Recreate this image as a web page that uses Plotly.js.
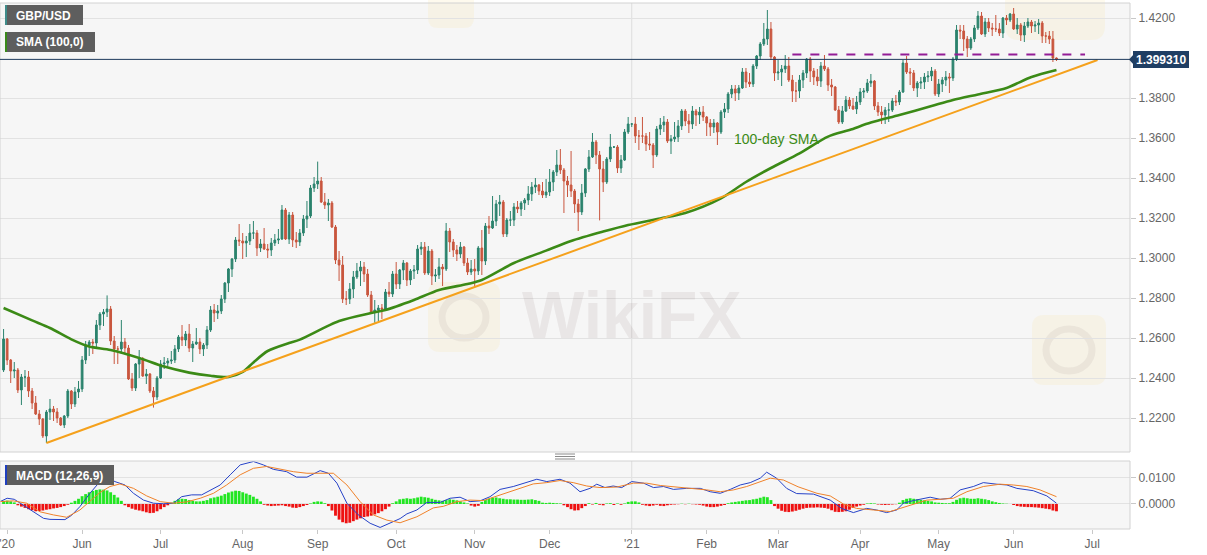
<!DOCTYPE html>
<html><head><meta charset="utf-8">
<script src="https://cdn.plot.ly/plotly-3.0.1.min.js"></script>
<style>html,body{margin:0;padding:0;background:#fff}#chart{width:1207px;height:555px}</style>
</head><body><div id="chart"></div>
<script>
// ---- Daily GBP/USD candles: bar 0 = 30 Apr 2020 ... bar 295 = 17 Jun 2021 ----
const opens = [1.2440,1.2595,1.2490,1.2435,1.2440,1.2340,1.2405,1.2405,1.2335,1.2275,1.2220,1.2195,1.2110,1.2230,1.2245,1.2230,1.2200,1.2165,1.2210,1.2335,
1.2270,1.2330,1.2345,1.2490,1.2565,1.2580,1.2575,1.2665,1.2720,1.2730,1.2745,1.2585,1.2545,1.2545,1.2580,1.2550,1.2395,1.2350,1.2470,1.2495,
1.2410,1.2420,1.2335,1.2305,1.2400,1.2470,1.2475,1.2485,1.2490,1.2545,1.2605,1.2590,1.2620,1.2550,1.2570,1.2580,1.2545,1.2565,1.2640,1.2740,
1.2725,1.2735,1.2795,1.2875,1.2945,1.2995,1.3090,1.3085,1.3075,1.3085,1.3125,1.3125,1.3050,1.3070,1.3045,1.3040,1.3075,1.3090,1.3095,1.3240,
1.3095,1.3215,1.3090,1.3080,1.3125,1.3195,1.3210,1.3350,1.3370,1.3385,1.3280,1.3265,1.3275,1.3155,1.2990,1.2965,1.2795,1.2795,1.2845,1.2905,
1.2935,1.2955,1.2920,1.2815,1.2730,1.2740,1.2750,1.2745,1.2830,1.2820,1.2920,1.2870,1.2940,1.2975,1.2890,1.2935,1.2940,1.3045,1.3055,1.2925,
1.3035,1.2910,1.2915,1.2955,1.2945,1.3135,1.3080,1.3040,1.3020,1.3055,1.2975,1.2930,1.2945,1.2935,1.3050,1.2985,1.3160,1.3150,1.3185,1.3270,
1.3280,1.3120,1.3190,1.3190,1.3255,1.3245,1.3275,1.3290,1.3320,1.3355,1.3365,1.3335,1.3315,1.3330,1.3380,1.3430,1.3465,1.3440,1.3385,1.3365,
1.3335,1.3270,1.3230,1.3325,1.3445,1.3505,1.3580,1.3515,1.3445,1.3380,1.3495,1.3555,1.3555,1.3450,1.3490,1.3630,1.3670,1.3670,1.3610,1.3610,
1.3610,1.3570,1.3565,1.3515,1.3645,1.3665,1.3680,1.3585,1.3595,1.3605,1.3660,1.3735,1.3685,1.3670,1.3735,1.3715,1.3730,1.3705,1.3675,1.3655,
1.3675,1.3630,1.3730,1.3745,1.3820,1.3845,1.3825,1.3850,1.3930,1.3880,1.3870,1.3960,1.4010,1.4070,1.4095,1.4145,1.4005,1.3925,1.3930,1.3945,
1.3960,1.3890,1.3835,1.3835,1.3890,1.3925,1.3995,1.3935,1.3905,1.3885,1.3960,1.3945,1.3865,1.3855,1.3740,1.3680,1.3735,1.3790,1.3760,1.3745,
1.3780,1.3830,1.3835,1.3875,1.3885,1.3760,1.3730,1.3715,1.3740,1.3740,1.3785,1.3780,1.3830,1.3975,1.3930,1.3925,1.3850,1.3875,1.3880,1.3905,
1.3910,1.3935,1.3820,1.3870,1.3890,1.3905,1.3900,1.3995,1.4140,1.4135,1.4095,1.4050,1.4095,1.4150,1.4210,1.4120,1.4180,1.4150,1.4145,1.4145,
1.4125,1.4200,1.4190,1.4220,1.4145,1.4165,1.4115,1.4160,1.4180,1.4160,1.4165,1.4175,1.4110,1.4110,1.4095,1.4000];
const highs = [1.2645,1.2600,1.2495,1.2480,1.2450,1.2420,1.2440,1.2435,1.2350,1.2310,1.2240,1.2200,1.2240,1.2295,1.2260,1.2250,1.2205,1.2215,1.2345,1.2340,
1.2355,1.2385,1.2510,1.2585,1.2590,1.2595,1.2690,1.2730,1.2745,1.2813,1.2760,1.2610,1.2560,1.2690,1.2600,1.2565,1.2425,1.2475,1.2540,1.2505,
1.2445,1.2425,1.2355,1.2410,1.2490,1.2505,1.2500,1.2535,1.2565,1.2615,1.2665,1.2635,1.2670,1.2585,1.2650,1.2600,1.2575,1.2660,1.2760,1.2770,
1.2765,1.2815,1.2880,1.2950,1.3000,1.3105,1.3170,1.3125,1.3110,1.3170,1.3185,1.3140,1.3095,1.3150,1.3070,1.3100,1.3120,1.3145,1.3265,1.3250,
1.3230,1.3230,1.3130,1.3145,1.3215,1.3285,1.3365,1.3405,1.3482,1.3405,1.3325,1.3295,1.3285,1.3165,1.3035,1.3010,1.2835,1.2875,1.2935,1.2975,
1.2985,1.2980,1.2945,1.2835,1.2790,1.2765,1.2770,1.2845,1.2880,1.2935,1.2980,1.2945,1.2990,1.2980,1.2945,1.2965,1.3065,1.3080,1.3080,1.3060,
1.3045,1.2945,1.3000,1.2970,1.3175,1.3150,1.3095,1.3065,1.3080,1.3060,1.3000,1.2990,1.2995,1.3060,1.3140,1.3175,1.3210,1.3310,1.3290,1.3315,
1.3290,1.3200,1.3235,1.3275,1.3285,1.3285,1.3300,1.3360,1.3380,1.3400,1.3370,1.3380,1.3395,1.3445,1.3440,1.3540,1.3545,1.3450,1.3410,1.3535,
1.3345,1.3295,1.3370,1.3450,1.3540,1.3625,1.3590,1.3535,1.3485,1.3505,1.3620,1.3560,1.3565,1.3515,1.3645,1.3705,1.3675,1.3705,1.3640,1.3705,
1.3625,1.3630,1.3575,1.3660,1.3700,1.3710,1.3695,1.3615,1.3680,1.3690,1.3745,1.3745,1.3720,1.3760,1.3745,1.3755,1.3760,1.3710,1.3695,1.3695,
1.3680,1.3740,1.3775,1.3830,1.3865,1.3865,1.3865,1.3950,1.3950,1.3925,1.3970,1.4015,1.4080,1.4175,1.4240,1.4180,1.4010,1.3990,1.3965,1.4015,
1.4005,1.3915,1.3880,1.3915,1.3940,1.4000,1.4005,1.3950,1.3945,1.3980,1.4015,1.3955,1.3895,1.3860,1.3760,1.3760,1.3810,1.3805,1.3800,1.3810,
1.3850,1.3850,1.3895,1.3920,1.3890,1.3780,1.3760,1.3755,1.3775,1.3800,1.3815,1.3840,1.3990,1.4010,1.3950,1.3940,1.3885,1.3905,1.3925,1.3935,
1.3955,1.3945,1.3895,1.3905,1.3935,1.3925,1.4005,1.4165,1.4165,1.4165,1.4110,1.4105,1.4165,1.4235,1.4230,1.4200,1.4200,1.4175,1.4215,1.4175,
1.4205,1.4215,1.4225,1.4250,1.4200,1.4175,1.4180,1.4200,1.4190,1.4185,1.4195,1.4185,1.4130,1.4135,1.4135,1.4003];
const lows = [1.2430,1.2465,1.2375,1.2400,1.2325,1.2265,1.2355,1.2305,1.2245,1.2215,1.2165,1.2100,1.2075,1.2190,1.2185,1.2175,1.2160,1.2150,1.2200,1.2245,
1.2255,1.2300,1.2330,1.2470,1.2510,1.2520,1.2545,1.2640,1.2660,1.2705,1.2565,1.2470,1.2470,1.2520,1.2525,1.2390,1.2335,1.2335,1.2400,1.2405,
1.2370,1.2325,1.2252,1.2290,1.2395,1.2445,1.2460,1.2470,1.2475,1.2530,1.2560,1.2560,1.2530,1.2480,1.2565,1.2520,1.2510,1.2545,1.2630,1.2680,
1.2695,1.2720,1.2775,1.2830,1.2905,1.2980,1.3060,1.2995,1.3005,1.3065,1.3095,1.3010,1.3030,1.3040,1.3000,1.3010,1.3060,1.3070,1.3090,1.3090,
1.3070,1.3055,1.3050,1.3060,1.3110,1.3150,1.3200,1.3330,1.3345,1.3275,1.3245,1.3185,1.3150,1.2970,1.2885,1.2775,1.2765,1.2770,1.2800,1.2895,
1.2860,1.2880,1.2805,1.2720,1.2676,1.2685,1.2695,1.2735,1.2805,1.2805,1.2845,1.2845,1.2890,1.2860,1.2865,1.2895,1.2920,1.3015,1.2915,1.2915,
1.2865,1.2880,1.2895,1.2860,1.2935,1.3030,1.3005,1.2985,1.3000,1.2960,1.2915,1.2915,1.2855,1.2915,1.2915,1.2965,1.3120,1.3145,1.3160,1.3210,
1.3105,1.3105,1.3160,1.3160,1.3225,1.3210,1.3240,1.3265,1.3285,1.3325,1.3315,1.3300,1.3300,1.3310,1.3335,1.3410,1.3420,1.3225,1.3305,1.3305,
1.3225,1.3135,1.3215,1.3305,1.3430,1.3500,1.3470,1.3188,1.3330,1.3370,1.3480,1.3550,1.3425,1.3425,1.3485,1.3620,1.3655,1.3575,1.3540,1.3575,
1.3535,1.3540,1.3450,1.3505,1.3615,1.3630,1.3575,1.3520,1.3580,1.3580,1.3640,1.3660,1.3625,1.3645,1.3660,1.3670,1.3685,1.3610,1.3610,1.3625,
1.3565,1.3620,1.3700,1.3725,1.3800,1.3785,1.3790,1.3845,1.3850,1.3855,1.3855,1.3945,1.3990,1.4060,1.4065,1.3990,1.3885,1.3890,1.3860,1.3925,
1.3880,1.3780,1.3780,1.3800,1.3850,1.3900,1.3880,1.3865,1.3860,1.3855,1.3935,1.3835,1.3810,1.3735,1.3670,1.3670,1.3730,1.3745,1.3740,1.3720,
1.3765,1.3800,1.3825,1.3855,1.3740,1.3710,1.3670,1.3670,1.3680,1.3730,1.3760,1.3765,1.3825,1.3920,1.3865,1.3835,1.3805,1.3845,1.3845,1.3880,
1.3885,1.3810,1.3805,1.3830,1.3860,1.3825,1.3885,1.3985,1.4095,1.4035,1.4005,1.4040,1.4080,1.4140,1.4115,1.4105,1.4130,1.4110,1.4130,1.4110,
1.4100,1.4165,1.4180,1.4140,1.4120,1.4085,1.4080,1.4150,1.4125,1.4130,1.4120,1.4075,1.4075,1.4070,1.3980,1.3985];
const closes = [1.2595,1.2490,1.2435,1.2440,1.2340,1.2405,1.2405,1.2335,1.2275,1.2220,1.2195,1.2110,1.2230,1.2245,1.2230,1.2200,1.2165,1.2210,1.2335,1.2270,
1.2330,1.2345,1.2490,1.2565,1.2580,1.2575,1.2665,1.2720,1.2730,1.2745,1.2585,1.2545,1.2545,1.2580,1.2550,1.2395,1.2350,1.2470,1.2495,1.2410,
1.2420,1.2335,1.2305,1.2400,1.2470,1.2475,1.2485,1.2490,1.2545,1.2605,1.2590,1.2620,1.2550,1.2570,1.2580,1.2545,1.2565,1.2640,1.2740,1.2725,
1.2735,1.2795,1.2875,1.2945,1.2995,1.3090,1.3085,1.3075,1.3085,1.3125,1.3125,1.3050,1.3070,1.3045,1.3040,1.3075,1.3090,1.3095,1.3240,1.3095,
1.3215,1.3090,1.3080,1.3125,1.3195,1.3210,1.3350,1.3370,1.3385,1.3280,1.3265,1.3275,1.3155,1.2990,1.2965,1.2795,1.2795,1.2845,1.2905,1.2935,
1.2955,1.2920,1.2815,1.2730,1.2740,1.2750,1.2745,1.2830,1.2820,1.2920,1.2870,1.2940,1.2975,1.2890,1.2935,1.2940,1.3045,1.3055,1.2925,1.3035,
1.2910,1.2915,1.2955,1.2945,1.3135,1.3080,1.3040,1.3020,1.3055,1.2975,1.2930,1.2945,1.2935,1.3050,1.2985,1.3160,1.3150,1.3185,1.3270,1.3280,
1.3120,1.3190,1.3190,1.3255,1.3245,1.3275,1.3290,1.3320,1.3355,1.3365,1.3335,1.3315,1.3330,1.3380,1.3430,1.3465,1.3440,1.3385,1.3365,1.3335,
1.3270,1.3230,1.3325,1.3445,1.3505,1.3580,1.3515,1.3445,1.3380,1.3495,1.3555,1.3555,1.3450,1.3490,1.3630,1.3670,1.3670,1.3610,1.3610,1.3610,
1.3570,1.3565,1.3515,1.3645,1.3665,1.3680,1.3585,1.3595,1.3605,1.3660,1.3735,1.3685,1.3670,1.3735,1.3715,1.3730,1.3705,1.3675,1.3655,1.3675,
1.3630,1.3730,1.3745,1.3820,1.3845,1.3825,1.3850,1.3930,1.3880,1.3870,1.3960,1.4010,1.4070,1.4095,1.4145,1.4005,1.3925,1.3930,1.3945,1.3960,
1.3890,1.3835,1.3835,1.3890,1.3925,1.3995,1.3935,1.3905,1.3885,1.3960,1.3945,1.3865,1.3855,1.3740,1.3680,1.3735,1.3790,1.3760,1.3745,1.3780,
1.3830,1.3835,1.3875,1.3885,1.3760,1.3730,1.3715,1.3740,1.3740,1.3785,1.3780,1.3830,1.3975,1.3930,1.3925,1.3850,1.3875,1.3880,1.3905,1.3910,
1.3935,1.3820,1.3870,1.3890,1.3905,1.3900,1.3995,1.4140,1.4135,1.4095,1.4050,1.4095,1.4150,1.4210,1.4120,1.4180,1.4150,1.4145,1.4145,1.4125,
1.4200,1.4190,1.4220,1.4145,1.4165,1.4115,1.4160,1.4180,1.4160,1.4165,1.4175,1.4110,1.4110,1.4095,1.4000,1.3993];

// 100-day SMA (bar index, value)
const smaIdx = [0,8,13,19,24,30,38,45,52,58,63,67,70,74,80,83,94,103,107,115,122,130,134,143,152,159,168,175,184,191,201,208,215,223,231,237,243,251,260,266,273,281,288,295];
const smaVal = [1.2750,1.2688,1.2650,1.2593,1.2557,1.2540,1.2500,1.2457,1.2427,1.2411,1.2405,1.2430,1.2478,1.2535,1.2575,1.2592,1.2685,1.2725,1.2740,1.2790,1.2840,1.2870,1.2890,1.2975,1.3037,1.3085,1.3132,1.3165,1.3198,1.3225,1.3298,1.3380,1.3450,1.3523,1.3607,1.3640,1.3677,1.3715,1.3760,1.3790,1.3818,1.3850,1.3905,1.3940];

// Support trend line and resistance level
const trendIdx = [12, 306.5];
const trendVal = [1.2075, 1.3990];
const resistLevel = 1.4018;
const resistFrom = 221, resistTo = 303;
const lastPrice = 1.39931;

// MACD (12,26,9)
const macdIdx = [-1,1,3,5.5,8.4,11.2,13,17.2,19.1,21.4,24.2,27,28.9,31.2,34,36.4,39.2,42,44.8,47.6,49.9,52.7,55.5,57.9,60.7,63.5,66.3,70,72.8,75.6,79.3,82.1,85,88.7,91,93.4,96.2,99.4,102.7,105.5,108.3,111.1,113,115.8,118.6,122.3,125.1,127.9,130.7,133.5,136.3,139.1,142.8,146.6,149.4,152.2,155.9,158.7,161.5,164.3,166.2,168.5,170.8,173.2,176,179.3,182.1,184.9,187.7,191.4,195.2,198,200.8,203.6,206.4,209.2,212,213.8,216.6,219.4,222.2,226.9,231.6,234.8,238.1,241.8,244.6,247.4,250.2,252.1,254.9,259.6,262.4,265.2,268,271.7,274.5,278.3,281.1,283.9,288.5,292.3,295];
const macdVal = [0.0009,0.0022,0.0018,-0.0004,-0.0030,-0.0055,-0.0059,-0.0060,-0.0043,-0.0010,0.0041,0.0086,0.0103,0.0086,0.0073,0.0041,0.0015,0.0003,0.0001,0.0003,0.0028,0.0035,0.0035,0.0054,0.0073,0.0112,0.0150,0.0163,0.0150,0.0133,0.0124,0.0103,0.0103,0.0128,0.0118,0.0080,0.0003,-0.0042,-0.0074,-0.0090,-0.0074,-0.0056,-0.0038,-0.0023,0.0006,0.0006,0.0022,0.0026,0.0009,0.0012,0.0028,0.0056,0.0067,0.0082,0.0095,0.0086,0.0095,0.0080,0.0047,0.0060,0.0076,0.0063,0.0069,0.0063,0.0086,0.0080,0.0063,0.0067,0.0056,0.0060,0.0060,0.0047,0.0041,0.0056,0.0073,0.0082,0.0099,0.0122,0.0099,0.0060,0.0040,0.0038,0.0015,-0.0017,-0.0033,-0.0017,-0.0023,-0.0033,-0.0023,0.0003,0.0013,0.0026,0.0018,0.0022,0.0054,0.0067,0.0082,0.0076,0.0073,0.0060,0.0051,0.0031,0.0003];
const signalIdx = [-1,2.7,6.5,10.2,14,17.7,21.4,24.2,27,29.8,32.6,36.4,40.1,43.9,47.6,51.3,55.1,58.8,62.5,66.3,70,73.7,77.5,81.2,85,88.7,92.4,96.2,99.9,103.6,107.4,111.1,115.8,120.4,123.2,127,130.7,134.4,139.1,143.8,148.4,152.2,155.9,159.6,163.4,167.1,171.8,176.5,180.2,184,188.6,193.3,197,200.8,204.5,208.2,212,214.8,218.5,222.6,227.9,231.6,235.3,239,243.7,248.4,251.2,254.9,258.7,262.4,266.1,269.9,274.5,279.2,282.9,286.7,290.4,295];
const signalVal = [0.0009,0.0012,0.0003,-0.0030,-0.0042,-0.0051,-0.0023,0.0009,0.0044,0.0067,0.0077,0.0060,0.0031,0.0009,0.0003,0.0008,0.0022,0.0041,0.0073,0.0112,0.0137,0.0144,0.0133,0.0124,0.0118,0.0118,0.0118,0.0073,0.0009,-0.0042,-0.0062,-0.0072,-0.0049,-0.0015,-0.0009,0.0009,0.0015,0.0013,0.0035,0.0054,0.0077,0.0082,0.0090,0.0082,0.0069,0.0063,0.0065,0.0080,0.0080,0.0071,0.0065,0.0060,0.0054,0.0047,0.0054,0.0067,0.0086,0.0099,0.0092,0.0066,0.0041,0.0031,0.0000,-0.0017,-0.0023,-0.0029,-0.0017,0.0000,0.0015,0.0018,0.0022,0.0047,0.0067,0.0076,0.0073,0.0067,0.0054,0.0028];
const histVal = [0.0012,0.0013,0.0010,0.0006,-0.0005,-0.0010,-0.0015,-0.0020,-0.0024,-0.0028,-0.0027,-0.0025,-0.0022,-0.0020,-0.0017,-0.0015,-0.0012,-0.0008,-0.0003,0.0005,
0.0012,0.0020,0.0030,0.0038,0.0045,0.0050,0.0054,0.0056,0.0055,0.0052,0.0045,0.0035,0.0025,0.0012,-0.0005,-0.0012,-0.0018,-0.0022,-0.0025,-0.0028,
-0.0032,-0.0035,-0.0034,-0.0028,-0.0020,-0.0012,-0.0005,0.0005,0.0012,0.0018,0.0020,0.0019,0.0015,0.0012,0.0010,0.0010,0.0012,0.0015,0.0022,0.0025,
0.0028,0.0032,0.0038,0.0044,0.0048,0.0051,0.0050,0.0045,0.0040,0.0035,0.0028,0.0020,0.0010,-0.0003,-0.0006,-0.0008,-0.0007,-0.0006,-0.0005,-0.0008,
-0.0010,-0.0014,-0.0015,-0.0012,-0.0008,-0.0004,0.0002,0.0008,0.0010,0.0009,0.0003,-0.0008,-0.0025,-0.0045,-0.0060,-0.0070,-0.0074,-0.0072,-0.0066,-0.0060,
-0.0055,-0.0050,-0.0048,-0.0045,-0.0040,-0.0035,-0.0028,-0.0020,-0.0010,0.0003,0.0010,0.0018,0.0020,0.0022,0.0020,0.0022,0.0025,0.0028,0.0026,0.0024,
0.0020,0.0016,0.0014,0.0012,0.0015,0.0018,0.0016,0.0014,0.0010,0.0006,0.0002,-0.0006,-0.0010,-0.0007,0.0008,0.0015,0.0020,0.0024,0.0025,0.0022,
0.0020,0.0018,0.0018,0.0017,0.0017,0.0016,0.0016,0.0017,0.0018,0.0015,0.0012,0.0005,0.0004,0.0005,0.0004,0.0003,0.0002,-0.0005,-0.0012,-0.0020,
-0.0025,-0.0024,-0.0016,-0.0008,0.0003,-0.0002,0.0004,-0.0003,-0.0005,0.0002,0.0003,-0.0004,0.0002,-0.0003,0.0002,0.0008,0.0010,0.0010,0.0006,-0.0003,
-0.0006,-0.0008,-0.0006,-0.0003,-0.0007,-0.0008,-0.0005,-0.0003,-0.0002,-0.0001,0.0001,-0.0001,0.0001,-0.0001,-0.0002,-0.0003,-0.0006,-0.0010,-0.0012,-0.0012,
-0.0010,-0.0007,-0.0004,0.0003,0.0006,0.0008,0.0010,0.0012,0.0014,0.0015,0.0018,0.0020,0.0024,0.0028,0.0026,0.0015,-0.0008,-0.0018,-0.0026,-0.0030,
-0.0031,-0.0029,-0.0026,-0.0022,-0.0018,-0.0015,-0.0014,-0.0014,-0.0013,-0.0014,-0.0015,-0.0018,-0.0024,-0.0030,-0.0031,-0.0030,-0.0028,-0.0022,-0.0015,-0.0010,
-0.0006,-0.0003,0.0002,0.0003,0.0002,-0.0002,-0.0003,-0.0004,-0.0003,-0.0002,-0.0001,0.0005,0.0015,0.0020,0.0022,0.0020,0.0018,0.0016,0.0014,0.0012,
0.0010,0.0006,0.0005,0.0004,0.0003,0.0003,0.0008,0.0016,0.0022,0.0024,0.0022,0.0020,0.0020,0.0022,0.0020,0.0018,0.0015,0.0010,0.0007,0.0004,
0.0002,0.0001,0.0000,-0.0004,-0.0008,-0.0010,-0.0011,-0.0012,-0.0012,-0.0013,-0.0014,-0.0016,-0.0018,-0.0020,-0.0025,-0.0028];

// X axis month ticks (bar index of first trading day)
const tickIdx = [1,22,44,67,88,110,132,153,176,197,217,240,262,283,305];
const tickText = ["'20","Jun","Jul","Aug","Sep","Oct","Nov","Dec","'21","Feb","Mar","Apr","May","Jun","Jul"];
const priceTicks = [1.22,1.24,1.26,1.28,1.30,1.32,1.34,1.36,1.38,1.42];

// ---- geometry helpers (plot area 0..1130 px wide, 3..529 px tall) ----
const PW = 1130, PT = 3, PB = 529;
const px = v => v / PW;
const py = v => (PB - v) / (PB - PT);
const FONT = 'Liberation Sans, Arial, sans-serif';

const barIdx = closes.map((_, i) => i);
const histColors = histVal.map(v => v >= 0 ? '#22e622' : '#ee1111');

const traces = [
  {type:'candlestick', x:barIdx, open:opens, high:highs, low:lows, close:closes, xaxis:'x', yaxis:'y',
   increasing:{line:{color:'#2b836d', width:1}, fillcolor:'#2b836d'},
   decreasing:{line:{color:'#c9563e', width:1}, fillcolor:'#c9563e'},
   whiskerwidth:0, hoverinfo:'skip'},
  {type:'scatter', mode:'lines', x:smaIdx, y:smaVal, xaxis:'x', yaxis:'y',
   line:{color:'#3b8a16', width:2.6, shape:'spline', smoothing:0.8}, hoverinfo:'skip'},
  {type:'scatter', mode:'lines', x:trendIdx, y:trendVal, xaxis:'x', yaxis:'y',
   line:{color:'#f5a11c', width:2}, hoverinfo:'skip'},
  {type:'bar', x:barIdx, y:histVal, xaxis:'x', yaxis:'y2', marker:{color:histColors, line:{width:0}},
   width:0.8, hoverinfo:'skip'},
  {type:'scatter', mode:'lines', x:macdIdx, y:macdVal, xaxis:'x', yaxis:'y2',
   line:{color:'#2642c8', width:1}, hoverinfo:'skip'},
  {type:'scatter', mode:'lines', x:signalIdx, y:signalVal, xaxis:'x', yaxis:'y2',
   line:{color:'#f0822a', width:1}, hoverinfo:'skip'}
];

const mainBottom = py(452), macdTop = py(461);
// rounded faint watermark badge (pixel box -> paper path)
const logo = (x0, y0, x1, y1, r) => {
  const X = px, Y = py;
  const d = `M ${X(x0+r)} ${Y(y0)} L ${X(x1-r)} ${Y(y0)} Q ${X(x1)} ${Y(y0)} ${X(x1)} ${Y(y0+r)} ` +
    `L ${X(x1)} ${Y(y1-r)} Q ${X(x1)} ${Y(y1)} ${X(x1-r)} ${Y(y1)} L ${X(x0+r)} ${Y(y1)} ` +
    `Q ${X(x0)} ${Y(y1)} ${X(x0)} ${Y(y1-r)} L ${X(x0)} ${Y(y0+r)} Q ${X(x0)} ${Y(y0)} ${X(x0+r)} ${Y(y0)} Z`;
  return {type:'path', xref:'paper', yref:'paper', layer:'below', path:d, fillcolor:'rgba(250,224,150,0.16)', line:{width:0}};
};
const ring = (x0, y0, x1, y1) => ({type:'circle', xref:'paper', yref:'paper', layer:'below',
  x0:px(x0), x1:px(x1), y0:py(y1), y1:py(y0), line:{color:'rgba(140,120,120,0.10)', width:7}});

const shapes = [
  // faint watermark logos
  logo(428, 282, 500, 352, 12), ring(442, 296, 486, 338),
  logo(1032, 315, 1106, 385, 12), ring(1046, 329, 1092, 371),
  logo(428, -12, 474, 28, 10),
  logo(1005, -12, 1105, 40, 14),
  // panel borders
  {type:'rect', xref:'paper', yref:'paper', x0:0, x1:1, y0:mainBottom, y1:1, line:{color:'#d2d2d2', width:1}},
  {type:'rect', xref:'paper', yref:'paper', x0:0, x1:1, y0:0, y1:macdTop, line:{color:'#d2d2d2', width:1}},
  // year separator
  {type:'line', xref:'x', yref:'y domain', x0:176, x1:176, y0:0, y1:1, line:{color:'#dddddd', width:1}, layer:'below'},
  {type:'line', xref:'x', yref:'y2 domain', x0:176, x1:176, y0:0, y1:1, line:{color:'#dddddd', width:1}, layer:'below'},
  // last-price line
  {type:'line', xref:'x domain', yref:'y', x0:0, x1:1, y0:lastPrice, y1:lastPrice, line:{color:'#1d395c', width:1}},
  // resistance
  {type:'line', xref:'x', yref:'y', x0:resistFrom, x1:resistTo, y0:resistLevel, y1:resistLevel, line:{color:'#931d96', width:2, dash:'dash'}},
  // price label arrow + box
  {type:'path', xref:'paper', yref:'paper', path:`M ${px(1129)} ${py(59.5)} L ${px(1134)} ${py(54)} L ${px(1134)} ${py(65)} Z`, fillcolor:'#1f3e63', line:{width:0}},
  {type:'rect', xref:'paper', yref:'paper', x0:px(1133), x1:px(1189), y0:py(68), y1:py(51), fillcolor:'#1f3e63', line:{width:0}},
  // splitter handle
  {type:'line', xref:'paper', yref:'paper', x0:px(555), x1:px(575), y0:py(454), y1:py(454), line:{color:'#8a8a8a', width:1}},
  {type:'line', xref:'paper', yref:'paper', x0:px(555), x1:px(575), y0:py(456.5), y1:py(456.5), line:{color:'#8a8a8a', width:1}},
  {type:'line', xref:'paper', yref:'paper', x0:px(555), x1:px(575), y0:py(459), y1:py(459), line:{color:'#8a8a8a', width:1}},
  // legend boxes
  {type:'rect', xref:'paper', yref:'paper', x0:px(5), x1:px(83), y0:py(25), y1:py(5), fillcolor:'#5e5e5e', line:{width:0}},
  {type:'rect', xref:'paper', yref:'paper', x0:px(5), x1:px(7), y0:py(25), y1:py(5), fillcolor:'#3f8c8a', line:{width:0}},
  {type:'rect', xref:'paper', yref:'paper', x0:px(5), x1:px(95), y0:py(52), y1:py(32), fillcolor:'#5e5e5e', line:{width:0}},
  {type:'rect', xref:'paper', yref:'paper', x0:px(5), x1:px(7), y0:py(52), y1:py(32), fillcolor:'#3a8a1a', line:{width:0}},
  {type:'rect', xref:'paper', yref:'paper', x0:px(5), x1:px(114), y0:py(485), y1:py(465), fillcolor:'#5e5e5e', line:{width:0}},
  {type:'rect', xref:'paper', yref:'paper', x0:px(5), x1:px(7), y0:py(485), y1:py(465), fillcolor:'#1f3fbf', line:{width:0}}
];

const ann = (text, x, y, size, color, extra) => Object.assign({
  text, xref:'paper', yref:'paper', x:px(x), y:py(y), xanchor:'left', yanchor:'middle',
  showarrow:false, font:{family:FONT, size, color}}, extra || {});

const annotations = [
  ann('WikiFX', 520, 315, 66, 'rgba(150,125,125,0.13)', {font:{family:FONT, size:66, color:'rgba(150,125,125,0.13)', weight:700}}),
  ann('<b>GBP/USD</b>', 14, 15.5, 12, '#ffffff'),
  ann('<b>SMA (100,0)</b>', 14, 42.5, 12, '#ffffff'),
  ann('<b>MACD (12,26,9)</b>', 14, 475.5, 12, '#ffffff'),
  ann('100-day SMA', 732, 139, 14, '#3b8a16'),
  ann('<b>' + lastPrice.toFixed(6) + '</b>', 1161, 60, 12, '#ffffff', {xanchor:'center'})
];

const layout = {
  width:1207, height:555,
  margin:{l:0, r:77, t:PT, b:555-PB, pad:0},
  paper_bgcolor:'#ffffff', plot_bgcolor:'#f6f6f6',
  showlegend:false, hovermode:false, dragmode:false, bargap:0.2,
  font:{family:FONT, size:12, color:'#666666'},
  xaxis:{domain:[0,1], anchor:'y2', range:[-1, 315.6], rangeslider:{visible:false},
    tickmode:'array', tickvals:tickIdx, ticktext:tickText, showgrid:false, zeroline:false,
    ticks:'outside', ticklen:4, tickcolor:'#c8c8c8', showline:false, ticklabeloverflow:'allow',
    tickfont:{family:FONT, size:12, color:'#666666'}},
  yaxis:{domain:[mainBottom, 1], side:'right', anchor:'x', range:[1.2030, 1.4275],
    tickmode:'array', tickvals:priceTicks, tickformat:'.4f',
    showgrid:true, gridcolor:'#e2e2e2', zeroline:false, ticks:'outside', ticklen:5, tickcolor:'#c8c8c8',
    showline:false, tickfont:{family:FONT, size:12, color:'#666666'}},
  yaxis2:{domain:[0, macdTop], side:'right', anchor:'x', range:[-0.0096, 0.0165],
    tickmode:'array', tickvals:[0, 0.01], tickformat:'.4f',
    showgrid:true, gridcolor:'#e2e2e2', zeroline:false, ticks:'outside', ticklen:5, tickcolor:'#c8c8c8',
    showline:false, tickfont:{family:FONT, size:12, color:'#666666'}},
  shapes, annotations
};

Plotly.newPlot('chart', traces, layout, {staticPlot:true, displayModeBar:false});
</script></body></html>
